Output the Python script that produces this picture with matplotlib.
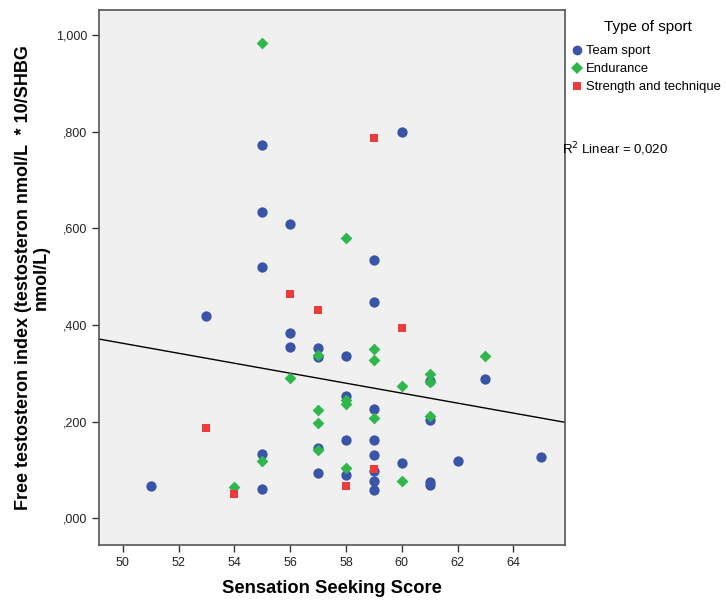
import numpy as np
import matplotlib.pyplot as plt
from matplotlib.lines import Line2D

plt.rcParams['font.family'] = ['Liberation Sans', 'DejaVu Sans']

# data
team_x = [51, 53, 55, 55, 55, 55, 55, 56, 56, 56, 57, 57, 57, 57,
          58, 58, 58, 58, 59, 59, 59, 59, 59, 59, 59, 59,
          60, 60, 61, 61, 61, 61, 62, 63, 65]
team_y = [0.068, 0.419, 0.772, 0.633, 0.520, 0.133, 0.060, 0.609, 0.383, 0.355,
          0.353, 0.333, 0.145, 0.093,
          0.336, 0.253, 0.162, 0.089, 0.534, 0.448, 0.226, 0.162, 0.131, 0.098, 0.077, 0.058,
          0.800, 0.115, 0.284, 0.204, 0.075, 0.070, 0.119, 0.288, 0.128]

endu_x = [54, 55, 55, 56, 57, 57, 57, 57, 58, 58, 58, 58,
          59, 59, 59, 60, 60, 61, 61, 61, 63]
endu_y = [0.064, 0.983, 0.118, 0.290, 0.339, 0.225, 0.197, 0.142, 0.581, 0.245, 0.237, 0.104,
          0.351, 0.328, 0.207, 0.275, 0.077, 0.298, 0.283, 0.211, 0.337]

str_x = [53, 54, 56, 57, 58, 59, 59, 60]
str_y = [0.187, 0.050, 0.465, 0.431, 0.068, 0.788, 0.102, 0.394]

x_ticks = [50, 52, 54, 56, 58, 60, 62, 64]
y_ticks = [0.0, 0.2, 0.4, 0.6, 0.8, 1.0]
y_tick_labels = [',000', ',200', ',400', ',600', ',800', '1,000']

fig = plt.figure(figsize=(7.26, 6.05), dpi=100)
ax = fig.add_axes([99 / 726, 60 / 605, 466 / 726, 535 / 605])
ax.set_facecolor('#f0f0f0')

ax.scatter(team_x, team_y, marker='o', s=55, color='#3a55a8', zorder=3, linewidths=0)
ax.scatter(endu_x, endu_y, marker='D', s=36, color='#2eb84b', zorder=4, linewidths=0)
ax.scatter(str_x, str_y, marker='s', s=38, color='#ef3b3b', zorder=4, linewidths=0)

# linear fit over all points
all_x = np.array(team_x + endu_x + str_x, dtype=float)
all_y = np.array(team_y + endu_y + str_y)
slope, intercept = np.polyfit(all_x, all_y, 1)
xlim = (49.15, 65.85)
xs = np.array(xlim)
ax.plot(xs, intercept + slope * xs, color='black', lw=1, zorder=2)

ax.set_xlim(*xlim)
ax.set_ylim(-0.055, 1.052)
ax.set_xticks(x_ticks)
ax.set_yticks(y_ticks)
ax.set_yticklabels(y_tick_labels)
ax.tick_params(direction='out', length=5, width=1, labelsize=9, colors='#333333',
               labelcolor='#222222')
for sp in ax.spines.values():
    sp.set_color('#555555')
    sp.set_linewidth(1.2)

ax.set_xlabel('Sensation Seeking Score', fontsize=13.2, fontweight='bold', labelpad=8)
ax.set_ylabel('Free testosteron index (testosteron nmol/L  * 10/SHBG\nnmol/L)',
              fontsize=13, fontweight='bold', linespacing=1.1)
ax.yaxis.set_label_coords(-(99 - 50) / 466, 0.5)

fig.text(648 / 726, 1 - 27 / 605, 'Type of sport', fontsize=11, ha='center', va='center')

handles = [
    Line2D([], [], marker='o', ls='', color='#3a55a8', markersize=7, markeredgewidth=0),
    Line2D([], [], marker='D', ls='', color='#2eb84b', markersize=6, markeredgewidth=0),
    Line2D([], [], marker='s', ls='', color='#ef3b3b', markersize=6, markeredgewidth=0),
]
fig.legend(handles, ['Team sport', 'Endurance', 'Strength and technique'],
           loc='upper left', bbox_to_anchor=(569 / 726, 1 - 45 / 605),
           frameon=False, fontsize=9.4, handletextpad=0.1, borderpad=0,
           handlelength=1.2, labelspacing=0.45, borderaxespad=0)

fig.text(562 / 726, 1 - 149 / 605, 'R$^2$ Linear = 0,020', fontsize=9.5, va='center', ha='left')

fig.savefig('out.png', dpi=100)
